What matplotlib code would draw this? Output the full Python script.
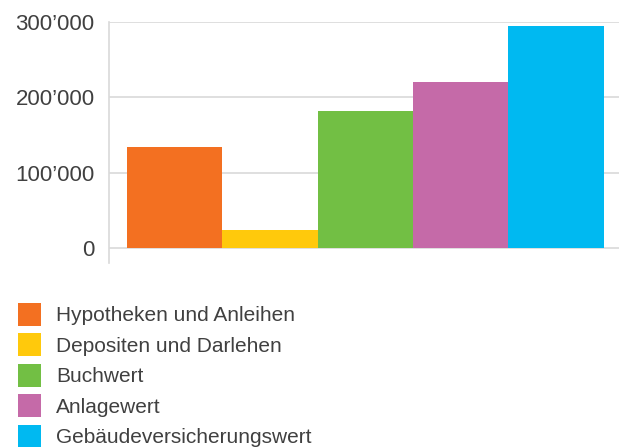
import matplotlib
matplotlib.use("Agg")
import matplotlib.pyplot as plt
from matplotlib.patches import Patch
from matplotlib.ticker import FuncFormatter

# ── Data ───────────────────────────────────────────────────────────────────────
labels = ["Hypotheken und Anleihen", "Depositen und Darlehen", "Buchwert",
          "Anlagewert", "Gebäudeversicherungswert"]
values = [134000, 24000, 182000, 220000, 294500]
colors = ["#F37021", "#FFC90C", "#72BF44", "#C56AA8", "#00B9F1"]
yticks = [0, 100000, 200000, 300000]

# ── Style ──────────────────────────────────────────────────────────────────────
TXT = "#404040"
GRID = "#d9d9d9"
plt.rcParams["font.family"] = ["Liberation Sans", "DejaVu Sans"]

W, H = 619, 447
fig = plt.figure(figsize=(W / 100, H / 100), dpi=100)
ax = fig.add_axes([108.5 / W, 1 - 263 / H, (618.5 - 108.5) / W, (263 - 22) / H])

x = list(range(len(values)))
ax.bar(x, values, width=1.0, align="edge", color=colors, zorder=3, linewidth=0)

ax.set_xlim(-0.194, 5.157)
ax.set_ylim(-19500, 300000)
ax.set_yticks(yticks)
ax.yaxis.set_major_formatter(FuncFormatter(lambda v, _: f"{int(v):,}".replace(",", "\u2019")))
ax.grid(axis="y", color=GRID, lw=1.2, zorder=0)
ax.set_xticks([])
ax.tick_params(axis="y", length=0, pad=10, labelsize=16, labelcolor=TXT)

for s in ("top", "right", "bottom"):
    ax.spines[s].set_visible(False)
ax.spines["left"].set_color(GRID)
ax.spines["left"].set_linewidth(1.2)

# ── Legend ─────────────────────────────────────────────────────────────────────
handles = [Patch(facecolor=c, edgecolor="none") for c in colors]
fig.legend(handles, labels, loc="upper left",
           bbox_to_anchor=(18 / W, 1 - 303 / H), frameon=False,
           fontsize=15, labelcolor=TXT, borderpad=0, borderaxespad=0,
           handlelength=1.104, handleheight=1.32, handletextpad=0.72,
           labelspacing=0.36)

fig.savefig("out.png", dpi=100)
